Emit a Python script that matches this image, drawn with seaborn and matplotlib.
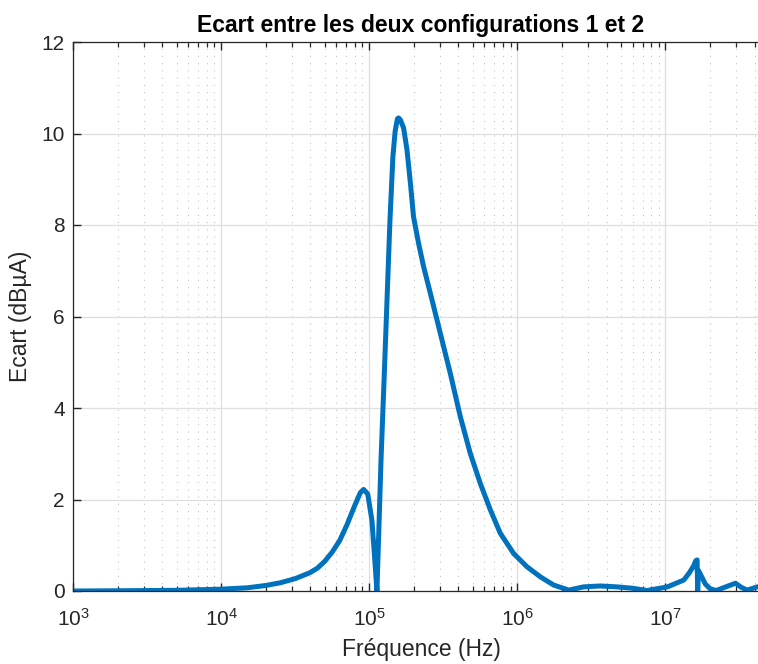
import matplotlib
matplotlib.use('Agg')
import matplotlib.pyplot as plt
import seaborn as sns
from matplotlib.ticker import LogLocator, NullFormatter

# Data (frequency in Hz, gap in dBuA)
freq = [1e3, 2e3, 5e3, 1e4, 1.5e4, 1.995e4, 2.512e4, 3.162e4, 3.981e4, 4.47e4,
        5.012e4, 5.62e4, 6.31e4, 7.08e4, 7.94e4, 8.71e4, 9.16e4, 9.77e4, 1.042e5, 1.081e5,
        1.127e5, 1.202e5, 1.259e5, 1.318e5, 1.38e5, 1.445e5, 1.496e5, 1.549e5, 1.578e5, 1.622e5,
        1.706e5, 1.799e5, 1.905e5, 1.991e5, 2.153e5, 2.328e5, 2.655e5, 3.02e5, 3.524e5, 4.121e5,
        4.808e5, 5.623e5, 6.577e5, 7.674e5, 9.44e5, 1.161e6, 1.429e6, 1.758e6, 2.22e6, 2.8e6,
        3.63e6, 4.71e6, 6.0e6, 7.5e6, 1.03e7, 1.33e7, 1.45e7, 1.55e7, 1.60e7, 1.635e7,
        1.65e7, 1.67e7, 1.75e7, 1.86e7, 2.0e7, 2.2e7, 2.6e7, 2.97e7, 3.25e7, 3.56e7,
        4.17e7, 5e7]
ecart = [0.00, 0.005, 0.015, 0.04, 0.07, 0.12, 0.18, 0.27, 0.40, 0.50,
         0.65, 0.85, 1.10, 1.45, 1.85, 2.15, 2.22, 2.12, 1.55, 0.85,
         0.00, 2.90, 4.60, 6.35, 8.10, 9.50, 10.05, 10.32, 10.34, 10.30,
         10.12, 9.64, 8.85, 8.18, 7.60, 7.09, 6.36, 5.63, 4.76, 3.81,
         3.01, 2.35, 1.77, 1.26, 0.82, 0.53, 0.31, 0.13, 0.02, 0.09,
         0.11, 0.09, 0.06, 0.01, 0.09, 0.24, 0.40, 0.55, 0.66, 0.68,
         0.00, 0.45, 0.32, 0.15, 0.05, 0.01, 0.10, 0.17, 0.08, 0.02,
         0.09, 0.12]

plt.rcParams['font.family'] = ['Liberation Sans', 'DejaVu Sans']
plt.rcParams['mathtext.fontset'] = 'custom'
plt.rcParams['mathtext.rm'] = 'Liberation Sans'
plt.rcParams['mathtext.it'] = 'Liberation Sans:italic'

fig = plt.figure(figsize=(7.58, 6.64), dpi=100)
# the original axes run a little past the right border (picture is cropped)
ax = fig.add_axes([73 / 758, 73 / 664, (769 - 73) / 758, (591 - 42) / 664])

sns.lineplot(x=freq, y=ecart, ax=ax, color='#0072BD', linewidth=3.6)

ax.set_xscale('log')
ax.set_xlim(1e3, 5e7)
ax.set_ylim(0, 12)
ax.set_yticks(range(0, 13, 2))
ax.xaxis.set_minor_locator(LogLocator(base=10, subs=range(2, 10), numticks=20))
ax.xaxis.set_minor_formatter(NullFormatter())

# MATLAB-like grid
ax.grid(True, which='major', color='#dedede', linewidth=0.9, linestyle='-')
ax.grid(True, which='minor', axis='x', color='#c4c4c4', linewidth=0.8, linestyle=(0, (1, 5.5)))
ax.set_axisbelow(True)

for s in ax.spines.values():
    s.set_color('#262626')
    s.set_linewidth(0.9)
ax.tick_params(which='both', direction='in', top=True, right=True, colors='#262626',
               labelsize=15, labelcolor='#262626')
ax.tick_params(which='major', length=6, width=1)
ax.tick_params(which='minor', length=3.5, width=0.9)
ax.tick_params(axis='x', pad=12)
ax.tick_params(axis='y', pad=6)

ax.set_title('Ecart entre les deux configurations 1 et 2', fontsize=16.5, fontweight='bold',
             color='black', pad=7)
ax.set_xlabel('Fréquence (Hz)', fontsize=16.5, color='#262626', labelpad=6)
ax.set_ylabel('Ecart (dBµA)', fontsize=16.5, color='#262626', labelpad=7)

fig.savefig('out.png', dpi=100)
